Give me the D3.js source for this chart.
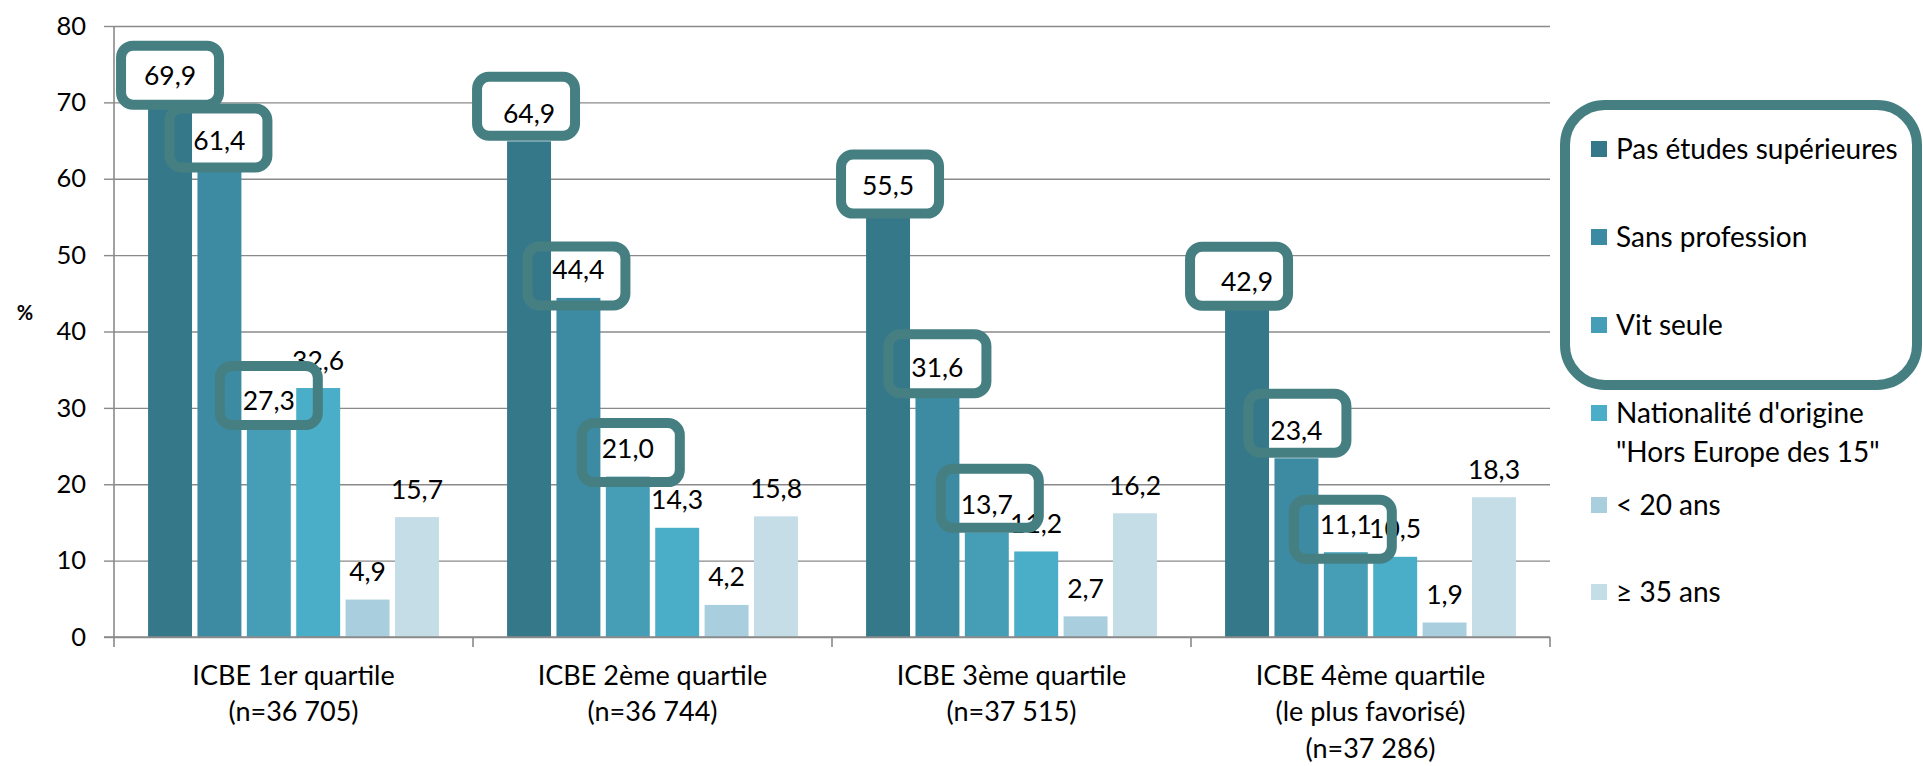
<!DOCTYPE html>
<html>
<head>
<meta charset="utf-8">
<script src="https://cdn.jsdelivr.net/npm/d3@7"></script>
<style>
  body { margin: 0; background: #fff; }
  text { font-family: Lato, "Open Sans", sans-serif; fill: #000; }
</style>
</head>
<body>
<script>
const width = 1923;
const height = 766;

// données
const categories = [
  ['ICBE 1er quartile', '(n=36 705)'],
  ['ICBE 2ème quartile', '(n=36 744)'],
  ['ICBE 3ème quartile', '(n=37 515)'],
  ['ICBE 4ème quartile', '(le plus favorisé)', '(n=37 286)']
];
const seriesNames = [
  ['Pas études supérieures'],
  ['Sans profession'],
  ['Vit seule'],
  ["Nationalité d'origine", '"Hors Europe des 15"'],
  ['< 20 ans'],
  ['≥ 35 ans']
];
const pasEtudes      = [69.9, 64.9, 55.5, 42.9];
const sansProfession = [61.4, 44.4, 31.6, 23.4];
const vitSeule       = [27.3, 21.0, 13.7, 11.1];
const horsEurope     = [32.6, 14.3, 11.2, 10.5];
const moins20        = [4.9, 4.2, 2.7, 1.9];
const plus35         = [15.7, 15.8, 16.2, 18.3];
const yTicks = [0, 10, 20, 30, 40, 50, 60, 70, 80];

const seriesValues = [pasEtudes, sansProfession, vitSeule, horsEurope, moins20, plus35];
const colors = ['#34788a', '#3c8ba3', '#459eb6', '#4baec8', '#a9cedd', '#c4dde7'];
const boxed = [0, 1, 2]; // séries entourées à la main

// petits décalages des cadres (dessinés à la main dans l'original)
const boxNudge = [
  [[0, 0], [-1, -2], [0, -5]],
  [[-3, -7], [-2, 6], [3, 4]],
  [[2, -1], [0, -4], [3, -6]],
  [[-8, -5], [1, -7], [-3, 5]]
];

const boxColor = '#467f82';
const gridColor = '#8a8a8a';

const fr = d3.formatLocale({decimal: ',', thousands: ' ', grouping: [3], currency: ['', ' €']});
const fmt = fr.format('.1f');

const svg = d3.select('body').append('svg').attr('width', width).attr('height', height);

const margin = {left: 114, right: 373, top: 26, bottom: 129};
const x0 = d3.scaleBand().domain(d3.range(categories.length))
  .range([margin.left, width - margin.right]);
const x1 = d3.scaleBand().domain(d3.range(seriesValues.length))
  .range([0, x0.bandwidth()]).paddingInner(0.11).paddingOuter(0.69);
const y = d3.scaleLinear().domain([0, 80]).range([height - margin.bottom, margin.top]);

// grille
svg.append('g')
  .attr('transform', `translate(${margin.left},0)`)
  .call(d3.axisLeft(y).tickValues(yTicks).tickSize(-(width - margin.right - margin.left)).tickFormat(''))
  .call(g => g.select('.domain').remove())
  .call(g => g.selectAll('line').attr('stroke', gridColor).attr('stroke-width', 1.4));

// tableau des barres
const bars = [];
categories.forEach((c, gi) => {
  seriesValues.forEach((vals, si) => {
    bars.push({gi, si, v: vals[gi]});
  });
});
const labelY = d => y(d.v) - 28;
const cx = d => x0(d.gi) + x1(d.si) + x1.bandwidth() / 2;

const boxW = 98, boxH = 59;
const boxData = bars.filter(d => boxed.includes(d.si));

// fond blanc des cadres
svg.append('g').selectAll('rect').data(boxData).enter().append('rect')
  .attr('x', d => cx(d) + boxNudge[d.gi][d.si][0] - boxW / 2)
  .attr('y', d => labelY(d) + boxNudge[d.gi][d.si][1] - boxH / 2)
  .attr('width', boxW).attr('height', boxH)
  .attr('rx', 12)
  .attr('fill', '#fff');

// barres
svg.append('g').selectAll('rect').data(bars).enter().append('rect')
  .attr('x', d => x0(d.gi) + x1(d.si))
  .attr('y', d => y(d.v))
  .attr('width', x1.bandwidth())
  .attr('height', d => y(0) - y(d.v))
  .attr('fill', d => colors[d.si]);

// étiquettes
svg.append('g').selectAll('text').data(bars).enter().append('text')
  .attr('x', cx)
  .attr('y', labelY)
  .attr('dy', '0.36em')
  .attr('text-anchor', 'middle')
  .style('font-size', '26.5px')
  .text(d => fmt(d.v));

// contours des cadres
svg.append('g').selectAll('rect').data(boxData).enter().append('rect')
  .attr('x', d => cx(d) + boxNudge[d.gi][d.si][0] - boxW / 2)
  .attr('y', d => labelY(d) + boxNudge[d.gi][d.si][1] - boxH / 2)
  .attr('width', boxW).attr('height', boxH)
  .attr('rx', 12)
  .attr('fill', 'none')
  .attr('stroke', boxColor)
  .attr('stroke-width', 10);

// axe Y
const yAxis = svg.append('g')
  .attr('transform', `translate(${margin.left},0)`)
  .call(d3.axisLeft(y).tickValues(yTicks).tickSize(10).tickPadding(18).tickFormat(d3.format('d')));
yAxis.select('.domain').remove();
yAxis.selectAll('line').attr('stroke', gridColor).attr('stroke-width', 1.4);
yAxis.selectAll('text').style('font-size', '25.5px').style('font-family', 'Lato, sans-serif').attr('fill', '#000');
svg.append('line')
  .attr('x1', margin.left).attr('x2', margin.left)
  .attr('y1', y(80)).attr('y2', y(0) + 10)
  .attr('stroke', gridColor).attr('stroke-width', 1.6);

// axe X
svg.append('line')
  .attr('x1', margin.left - 10).attr('x2', width - margin.right)
  .attr('y1', y(0)).attr('y2', y(0))
  .attr('stroke', gridColor).attr('stroke-width', 1.6);
svg.append('g').selectAll('line').data(categories).enter().append('line')
  .attr('x1', (c, i) => x0(i) + x0.bandwidth()).attr('x2', (c, i) => x0(i) + x0.bandwidth())
  .attr('y1', y(0)).attr('y2', y(0) + 10)
  .attr('stroke', gridColor).attr('stroke-width', 1.6);

const catG = svg.append('g').selectAll('text').data(categories).enter().append('text')
  .attr('text-anchor', 'middle')
  .style('font-size', '27px');
catG.selectAll('tspan').data((c, i) => c.map(line => ({line, i}))).enter().append('tspan')
  .attr('x', d => x0(d.i) + x0.bandwidth() / 2)
  .attr('y', (d, k) => y(0) + 38 + k * 36.5)
  .attr('dy', '0.36em')
  .text(d => d.line);

// titre axe
svg.append('text')
  .attr('x', 25).attr('y', 313)
  .attr('dy', '0.36em')
  .attr('text-anchor', 'middle')
  .style('font-size', '20px').style('font-weight', 'bold')
  .text('%');

// légende
const legendY = [149, 237, 325, 413, 505, 592];
const lg = svg.append('g').selectAll('g').data(seriesNames).enter().append('g')
  .attr('transform', (d, i) => `translate(1591,${legendY[i]})`);
lg.append('rect')
  .attr('x', 0).attr('y', -8).attr('width', 16).attr('height', 16)
  .attr('fill', (d, i) => colors[i]);
lg.append('text')
  .style('font-size', '28px')
  .selectAll('tspan').data(d => d).enter().append('tspan')
  .attr('x', 25)
  .attr('y', (d, k) => k * 39)
  .attr('dy', '0.36em')
  .text(d => d);

svg.append('rect')
  .attr('x', 1565).attr('y', 105)
  .attr('width', 352).attr('height', 280)
  .attr('rx', 40)
  .attr('fill', 'none')
  .attr('stroke', boxColor)
  .attr('stroke-width', 10);
</script>
</body>
</html>
